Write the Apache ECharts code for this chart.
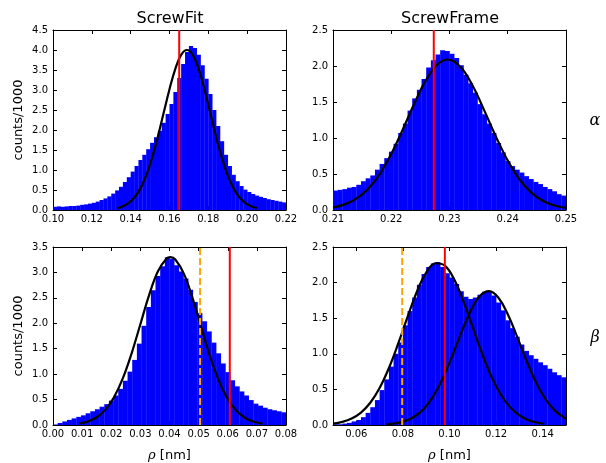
<!DOCTYPE html>
<html><head><meta charset="utf-8">
<script src="https://cdn.jsdelivr.net/npm/echarts@6/dist/echarts.min.js"></script>
<style>html,body{margin:0;padding:0;background:#fff}#c{width:606px;height:463px}</style>
</head><body><div id="c"></div>
<script>
// ---------- DATA (counts/1000) ----------
// ScrewFit, alpha
const fitAlphaBinStart = 0.100, fitAlphaBinWidth = 0.002;
const fitAlphaCounts = [0.08,0.09,0.08,0.09,0.10,0.10,0.11,0.13,0.14,0.16,
  0.18,0.21,0.25,0.29,0.34,0.41,0.49,0.58,0.70,0.82,
  0.96,1.10,1.25,1.38,1.52,1.68,1.82,1.98,2.18,2.40,
  2.65,2.95,3.30,3.65,3.95,4.10,4.05,3.88,3.62,3.28,
  2.90,2.50,2.10,1.72,1.38,1.10,0.88,0.72,0.60,0.51,
  0.45,0.40,0.36,0.33,0.30,0.27,0.25,0.23,0.21,0.19];
const fitAlphaCurveX = [0.133,0.136,0.139,0.142,0.145,0.148,0.151,0.154,0.157,0.160,0.163,0.166,0.169,0.172,0.175,0.178,0.181,0.184,0.187,0.190,0.193,0.196,0.199,0.202,0.205];
const fitAlphaCurveY = [0.044,0.091,0.176,0.318,0.541,0.865,1.30,1.83,2.43,3.02,3.53,3.88,4.00,3.88,3.53,3.02,2.43,1.83,1.30,0.865,0.541,0.318,0.176,0.091,0.044];
const fitAlphaRed = 0.165;

// ScrewFrame, alpha
const frameAlphaBinStart = 0.210, frameAlphaBinWidth = 0.0008;
const frameAlphaCounts = [0.27,0.28,0.29,0.31,0.32,0.35,0.40,0.44,0.48,0.56,
  0.64,0.72,0.81,0.92,1.07,1.20,1.38,1.55,1.67,1.82,
  1.98,2.08,2.16,2.22,2.21,2.17,2.11,2.01,1.88,1.76,
  1.63,1.47,1.33,1.20,1.07,0.93,0.80,0.68,0.61,0.56,
  0.52,0.47,0.43,0.39,0.36,0.32,0.29,0.26,0.22,0.20];
const frameAlphaCurveX = [0.210,0.212,0.214,0.216,0.218,0.220,0.222,0.224,0.226,0.228,0.2297,0.232,0.234,0.236,0.238,0.240,0.242,0.244,0.246,0.248,0.250];
const frameAlphaCurveY = [0.035,0.078,0.157,0.291,0.496,0.778,1.121,1.486,1.810,2.027,2.090,1.977,1.721,1.377,1.014,0.686,0.427,0.244,0.128,0.062,0.028];
const frameAlphaRed = 0.2273;

// ScrewFit, beta
const fitBetaBinStart = 0.000, fitBetaBinWidth = 0.0016;
const fitBetaCounts = [0.01,0.04,0.07,0.10,0.13,0.16,0.19,0.23,0.27,0.31,
  0.36,0.41,0.48,0.58,0.71,0.87,1.05,1.28,1.60,1.95,
  2.32,2.65,2.93,3.12,3.30,3.27,3.14,3.02,2.88,2.66,
  2.42,2.20,2.04,1.84,1.62,1.41,1.21,1.04,0.88,0.76,
  0.66,0.58,0.49,0.42,0.38,0.34,0.31,0.29,0.27,0.25];
const fitBetaCurveX = [0.009,0.012,0.015,0.018,0.021,0.024,0.027,0.030,0.033,0.036,0.039,0.0403,0.042,0.045,0.048,0.051,0.054,0.057,0.060,0.063,0.066,0.069,0.072];
const fitBetaCurveY = [0.030,0.070,0.152,0.302,0.551,0.920,1.410,1.981,2.554,3.019,3.273,3.300,3.254,2.967,2.481,1.904,1.339,0.864,0.512,0.278,0.138,0.063,0.026];
const fitBetaRed = 0.0607;
const fitBetaOrange = 0.0505;

// ScrewFrame, beta
const frameBetaBinStart = 0.050, frameBetaBinWidth = 0.002;
const frameBetaCounts = [0.01,0.01,0.02,0.03,0.05,0.07,0.11,0.17,0.25,0.35,
  0.49,0.64,0.82,1.00,1.16,1.40,1.60,1.79,1.97,2.12,
  2.22,2.27,2.29,2.22,2.13,2.07,1.98,1.88,1.80,1.77,
  1.79,1.83,1.87,1.87,1.82,1.72,1.61,1.47,1.36,1.24,
  1.13,1.04,0.98,0.93,0.88,0.84,0.79,0.74,0.70,0.67];
const frameBetaCurve1X = [0.050,0.054,0.058,0.062,0.066,0.070,0.074,0.078,0.082,0.086,0.090,0.094,0.098,0.102,0.106,0.110,0.114,0.118,0.122,0.126,0.130,0.134,0.138,0.1407];
const frameBetaCurve1Y = [0.020,0.044,0.091,0.175,0.312,0.519,0.801,1.145,1.519,1.872,2.141,2.272,2.239,2.047,1.737,1.369,1.001,0.679,0.428,0.251,0.136,0.068,0.032,0.018];
const frameBetaCurve2X = [0.073,0.077,0.081,0.085,0.089,0.093,0.097,0.101,0.105,0.109,0.113,0.117,0.121,0.125,0.129,0.133,0.137,0.141,0.145,0.149,0.150];
const frameBetaCurve2Y = [0.010,0.025,0.057,0.119,0.229,0.403,0.648,0.956,1.291,1.597,1.811,1.880,1.787,1.556,1.241,0.907,0.607,0.372,0.209,0.107,0.090];
const frameBetaRed = 0.098;
const frameBetaOrange = 0.0797;

const colTitles = ['ScrewFit', 'ScrewFrame'];
const rowLabels = ['α', 'β'];
const yLabel = 'counts/1000';
const xLabel = 'ρ [nm]';

// ---------- CHART ----------
const FONT = 'DejaVu Sans';
const grids = [
  {left: 53, top: 30, width: 233, height: 180},
  {left: 333, top: 30, width: 233, height: 180},
  {left: 53, top: 247, width: 233, height: 181},
  {left: 333, top: 247, width: 233, height: 181}
];
const panels = [
  {xmin: 0.10, xmax: 0.22, xint: 0.02, ymax: 4.5, start: fitAlphaBinStart, w: fitAlphaBinWidth, counts: fitAlphaCounts,
   curves: [[fitAlphaCurveX, fitAlphaCurveY]], red: fitAlphaRed, orange: null, yname: true, xname: false},
  {xmin: 0.21, xmax: 0.25, xint: 0.01, ymax: 2.5, start: frameAlphaBinStart, w: frameAlphaBinWidth, counts: frameAlphaCounts,
   curves: [[frameAlphaCurveX, frameAlphaCurveY]], red: frameAlphaRed, orange: null, yname: false, xname: false},
  {xmin: 0.00, xmax: 0.08, xint: 0.01, ymax: 3.5, start: fitBetaBinStart, w: fitBetaBinWidth, counts: fitBetaCounts,
   curves: [[fitBetaCurveX, fitBetaCurveY]], red: fitBetaRed, orange: fitBetaOrange, yname: true, xname: true},
  {xmin: 0.05, xmax: 0.15, xint: 0.01, custom: [0.06, 0.08, 0.10, 0.12, 0.14], ymax: 2.5, start: frameBetaBinStart, w: frameBetaBinWidth, counts: frameBetaCounts,
   curves: [[frameBetaCurve1X, frameBetaCurve1Y], [frameBetaCurve2X, frameBetaCurve2Y]], red: frameBetaRed, orange: frameBetaOrange, yname: false, xname: true}
];

const xAxes = [], yAxes = [], series = [];
const tick = {show: true, inside: true, length: 4, lineStyle: {color: '#000', width: 1}};
const line = {show: true, onZero: false, lineStyle: {color: '#000', width: 1}};

panels.forEach((p, i) => {
  const xTick = Object.assign({}, tick);
  const xLab = {show: true, margin: 4, color: '#000', fontFamily: FONT, fontSize: 10, formatter: v => (+v).toFixed(2)};
  if (p.custom) { xTick.customValues = p.custom; xLab.customValues = p.custom; }
  const xb = {type: 'value', gridIndex: i, position: 'bottom', min: p.xmin, max: p.xmax, interval: p.xint,
    axisLine: line, axisTick: xTick, axisLabel: xLab, splitLine: {show: false}};
  if (p.xname) {
    xb.name = '{i|ρ} [nm]';
    xb.nameLocation = 'middle';
    xb.nameGap = 24;
    xb.nameTextStyle = {color: '#000', fontFamily: FONT, fontSize: 13,
      rich: {i: {fontFamily: 'DejaVu Serif', fontStyle: 'italic', fontSize: 13, color: '#000'}}};
  }
  const xt = {type: 'value', gridIndex: i, position: 'top', min: p.xmin, max: p.xmax, interval: p.xint,
    axisLine: line, axisTick: Object.assign({}, xTick), axisLabel: {show: false}, splitLine: {show: false}};
  xAxes.push(xb, xt);
  const yl = {type: 'value', gridIndex: i, position: 'left', min: 0, max: p.ymax, interval: 0.5,
    axisLine: line, axisTick: tick, splitLine: {show: false},
    axisLabel: {show: true, margin: 5, color: '#000', fontFamily: FONT, fontSize: 10, formatter: v => (+v).toFixed(1)}};
  if (p.yname) {
    yl.name = yLabel; yl.nameLocation = 'middle'; yl.nameGap = 28;
    yl.nameTextStyle = {color: '#000', fontFamily: FONT, fontSize: 13};
  }
  const yr = {type: 'value', gridIndex: i, position: 'right', min: 0, max: p.ymax, interval: 0.5,
    axisLine: line, axisTick: tick, axisLabel: {show: false}, splitLine: {show: false}};
  yAxes.push(yl, yr);

  const hist = p.counts.map((c, k) => [p.start + k * p.w, p.start + (k + 1) * p.w, c]);
  series.push({
    type: 'custom', xAxisIndex: 2 * i, yAxisIndex: 2 * i, clip: true, silent: true,
    data: hist, encode: {x: [0, 1], y: 2},
    renderItem: (params, api) => {
      const a = api.coord([api.value(0), api.value(2)]);
      const b = api.coord([api.value(1), 0]);
      return {type: 'rect', shape: {x: a[0], y: a[1], width: b[0] - a[0] + 0.3, height: b[1] - a[1]},
        style: {fill: '#0000ff'}};
    }
  });
  p.curves.forEach(c => {
    series.push({type: 'line', xAxisIndex: 2 * i, yAxisIndex: 2 * i, showSymbol: false, silent: true, smooth: 0.4,
      data: c[0].map((x, k) => [x, c[1][k]]), lineStyle: {color: '#000', width: 2.2}, z: 3});
  });
  if (p.orange !== null) {
    series.push({type: 'line', xAxisIndex: 2 * i, yAxisIndex: 2 * i, showSymbol: false, silent: true,
      data: [[p.orange, 0], [p.orange, p.ymax]], lineStyle: {color: '#ffa500', width: 2, type: [7, 3]}, z: 4});
  }
  series.push({type: 'line', xAxisIndex: 2 * i, yAxisIndex: 2 * i, showSymbol: false, silent: true,
    data: [[p.red, 0], [p.red, p.ymax]], lineStyle: {color: '#ff0000', width: 2}, z: 4});
});

const graphics = [
  {type: 'text', x: 170, y: 19, style: {text: colTitles[0], font: '16px "DejaVu Sans"', fill: '#000', align: 'center', verticalAlign: 'middle', textAlign: 'center', textVerticalAlign: 'middle'}},
  {type: 'text', x: 450, y: 19, style: {text: colTitles[1], font: '16px "DejaVu Sans"', fill: '#000', align: 'center', verticalAlign: 'middle', textAlign: 'center', textVerticalAlign: 'middle'}},
  {type: 'text', x: 595, y: 121, style: {text: rowLabels[0], font: 'italic 16px "DejaVu Serif"', fill: '#000', align: 'center', verticalAlign: 'middle', textAlign: 'center', textVerticalAlign: 'middle'}},
  {type: 'text', x: 595, y: 338, style: {text: rowLabels[1], font: 'italic 16px "DejaVu Serif"', fill: '#000', align: 'center', verticalAlign: 'middle', textAlign: 'center', textVerticalAlign: 'middle'}}
];

const chart = echarts.init(document.getElementById('c'), null, {renderer: 'canvas'});
chart.setOption({
  animation: false,
  backgroundColor: '#fff',
  grid: grids,
  xAxis: xAxes,
  yAxis: yAxes,
  series: series,
  graphic: graphics
});
</script>
</body></html>
